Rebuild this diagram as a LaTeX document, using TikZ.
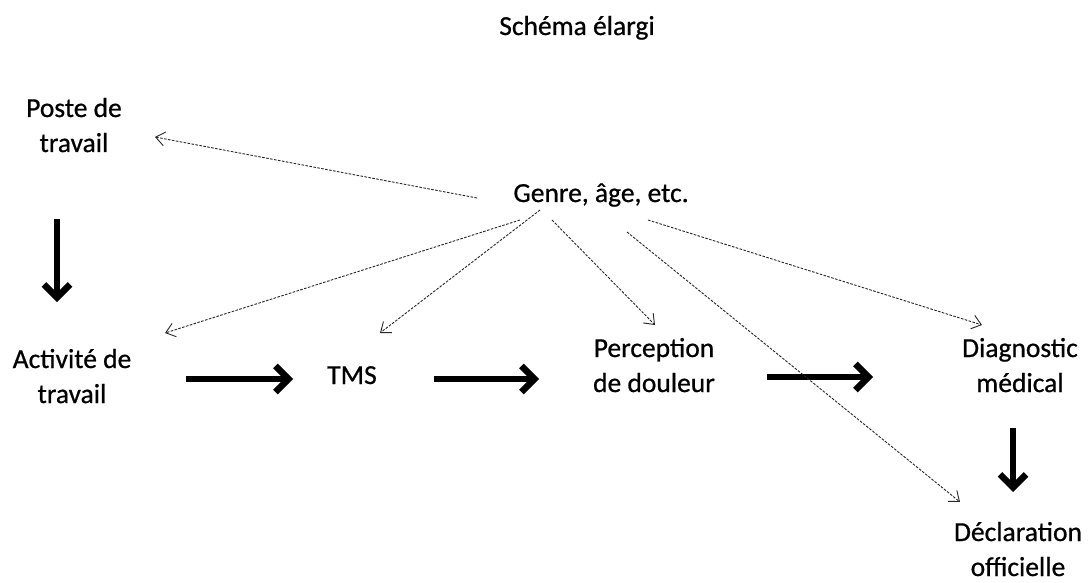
\documentclass[tikz,border=0pt]{standalone}
\usepackage{fontspec}
\setmainfont{Carlito}[FakeBold=0.7]
\usetikzlibrary{arrows.meta,calc}
\tikzset{
  lbl/.style={inner sep=0pt, align=center, anchor=base, font=\fontsize{27.5}{35}\selectfont},
  bigarrow/.style={line width=6.5pt, -{Straight Barb[length=13pt,width=26pt,line width=6.5pt]}},
  dasharrow/.style={line width=0.9pt, black!85, dash pattern=on 2.6pt off 1.4pt,
     -{Straight Barb[length=9pt,width=14pt,line width=0.9pt]}}
}
\begin{document}
\begin{tikzpicture}[x=1pt,y=-1pt]
\useasboundingbox (0,0) rectangle (1088,583);
\node[lbl] (title) at (577,35) {Schéma élargi};
\node[lbl] (poste) at (74,152) {Poste de\\travail};
\node[lbl] (genre) at (601,202) {Genre, âge, etc.};
\node[lbl] (act) at (72,403) {Activité de\\travail};
\node[lbl] (tms) at (352,384) {TMS};
\node[lbl] (perc) at (654,392) {Perception\\de douleur};
\node[lbl] (diag) at (1020,392) {Diagnostic\\médical};
\node[lbl] (decl) at (1018,576) {Déclaration\\officielle};

% thick arrows
\draw[bigarrow] ($(poste.base)+(-17,67)$) -- ($(act.base)+(-15,-101)$);
\draw[bigarrow] ($(act.base)+(114,-24)$) -- ($(tms.base)+(-59,-5)$);
\draw[bigarrow] ($(tms.base)+(82,-5)$) -- ($(perc.base)+(-115,-13)$);
\draw[bigarrow] ($(perc.base)+(113,-15)$) -- ($(diag.base)+(-147,-15)$);
\draw[bigarrow] ($(diag.base)+(-7,36)$) -- ($(decl.base)+(-5,-84)$);

% dashed arrows
\draw[dasharrow] ($(genre.base)+(-124,-4)$) -- ($(poste.base)+(81,-15)$);
\draw[dasharrow] ($(genre.base)+(-81,18)$) -- ($(act.base)+(93,-70)$);
\draw[dasharrow] ($(genre.base)+(-61,8)$) -- ($(tms.base)+(28,-51)$);
\draw[dasharrow] ($(genre.base)+(-49,18)$) -- ($(perc.base)+(1,-67)$);
\draw[dasharrow] ($(genre.base)+(26,30)$) -- ($(decl.base)+(-58,-74)$);
\draw[dasharrow] ($(genre.base)+(47,18)$) -- ($(diag.base)+(-38,-67)$);
\end{tikzpicture}
\end{document}
